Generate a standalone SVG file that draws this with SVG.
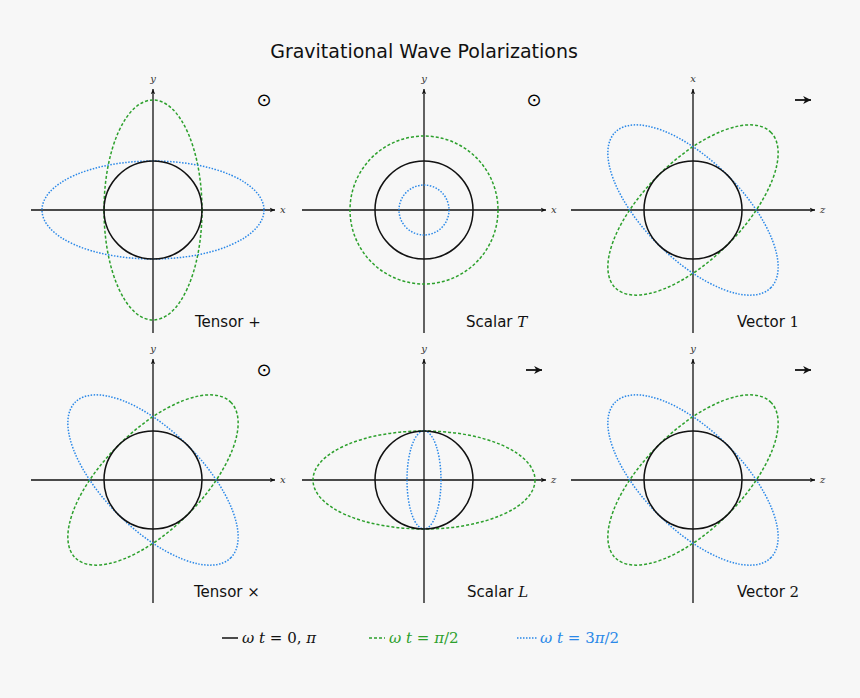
<svg xmlns="http://www.w3.org/2000/svg" width="860" height="698" viewBox="0 0 860 698">
<style>
.ax{stroke:#111;stroke-width:1.3;fill:none}
.k{stroke:#111;stroke-width:1.5;fill:none}
.g{stroke:#2ca02c;stroke-width:1.5;fill:none;stroke-dasharray:3 2}
.b{stroke:#2a88e8;stroke-width:1.5;fill:none;stroke-dasharray:1.5 1.5}
.al{font-family:"DejaVu Serif",serif;font-style:italic;font-size:10px;fill:#333}
.lb{font-family:"DejaVu Sans",sans-serif;font-size:15px;fill:#111}
.m{font-family:"DejaVu Serif",serif;font-style:italic;font-size:15px}
.n{font-family:"DejaVu Serif",serif;font-style:normal;font-size:15px}
.pa{stroke:#111;stroke-width:1.8}
</style>
<defs>
<marker id="ar" viewBox="0 0 8 8" refX="7" refY="4" markerWidth="6" markerHeight="6" orient="auto" markerUnits="userSpaceOnUse"><path d="M0,1 L7,4 L0,7 L2,4 Z" fill="#111"/></marker>
<marker id="ar2" viewBox="0 0 8 8" refX="7" refY="4" markerWidth="9" markerHeight="9" orient="auto" markerUnits="userSpaceOnUse"><path d="M0,0.5 L7,4 L0,7.5 L2,4 Z" fill="#111"/></marker>
<g id="axes"><path class="ax" d="M-122,0 H122" marker-end="url(#ar)"/><path class="ax" d="M0,123 V-121" marker-end="url(#ar)"/></g>
</defs>
<rect width="860" height="698" fill="#f7f7f7"/>
<text x="424" y="58" text-anchor="middle" font-family="DejaVu Sans,sans-serif" font-size="19" fill="#111">Gravitational Wave Polarizations</text>
<g id="tensor-plus" transform="translate(153,210)">
<use href="#axes"/><ellipse class="g" rx="49" ry="110"/><ellipse class="b" rx="111" ry="49"/><circle class="k" r="49"/>
<text class="al" x="0" y="-128" text-anchor="middle">y</text><text class="al" x="127" y="3">x</text>
<text x="111" y="-104" font-size="18" text-anchor="middle" font-family="DejaVu Sans,sans-serif">⊙</text>
<text class="lb" x="42" y="117">Tensor <tspan class="n">+</tspan></text>
</g>
<g id="scalar-T" transform="translate(424,210)">
<use href="#axes"/><circle class="g" r="74"/><circle class="b" r="25"/><circle class="k" r="49"/>
<text class="al" x="0" y="-128" text-anchor="middle">y</text><text class="al" x="127" y="3">x</text>
<text x="110" y="-104" font-size="18" text-anchor="middle" font-family="DejaVu Sans,sans-serif">⊙</text>
<text class="lb" x="42" y="117">Scalar <tspan class="m">T</tspan></text>
</g>
<g id="vector-1" transform="translate(693,210)">
<use href="#axes"/><ellipse class="g" rx="110" ry="49" transform="rotate(-45)"/><ellipse class="b" rx="110" ry="49" transform="rotate(45)"/><circle class="k" r="49"/>
<text class="al" x="0" y="-128" text-anchor="middle">x</text><text class="al" x="127" y="3">z</text>
<path class="pa" d="M102,-110 H118" marker-end="url(#ar2)"/>
<text class="lb" x="44" y="117">Vector <tspan class="n">1</tspan></text>
</g>
<g id="tensor-cross" transform="translate(153,480)">
<use href="#axes"/><ellipse class="g" rx="110" ry="49" transform="rotate(-45)"/><ellipse class="b" rx="110" ry="49" transform="rotate(45)"/><circle class="k" r="49"/>
<text class="al" x="0" y="-128" text-anchor="middle">y</text><text class="al" x="127" y="3">x</text>
<text x="111" y="-104" font-size="18" text-anchor="middle" font-family="DejaVu Sans,sans-serif">⊙</text>
<text class="lb" x="41" y="117">Tensor <tspan class="n">×</tspan></text>
</g>
<g id="scalar-L" transform="translate(424,480)">
<use href="#axes"/><ellipse class="g" rx="111" ry="49"/><ellipse class="b" rx="17" ry="49"/><circle class="k" r="49"/>
<text class="al" x="0" y="-128" text-anchor="middle">y</text><text class="al" x="127" y="3">z</text>
<path class="pa" d="M102,-110 H118" marker-end="url(#ar2)"/>
<text class="lb" x="43" y="117">Scalar <tspan class="m">L</tspan></text>
</g>
<g id="vector-2" transform="translate(693,480)">
<use href="#axes"/><ellipse class="g" rx="110" ry="49" transform="rotate(-45)"/><ellipse class="b" rx="110" ry="49" transform="rotate(45)"/><circle class="k" r="49"/>
<text class="al" x="0" y="-128" text-anchor="middle">y</text><text class="al" x="127" y="3">z</text>
<path class="pa" d="M102,-110 H118" marker-end="url(#ar2)"/>
<text class="lb" x="44" y="117">Vector <tspan class="n">2</tspan></text>
</g>
<g id="legend" font-family="DejaVu Serif,serif" font-size="15">
<path d="M222,638 H238" stroke="#111" stroke-width="1.5"/>
<text x="242" y="643" fill="#111"><tspan font-style="italic">ω t</tspan> = 0, <tspan font-style="italic">π</tspan></text>
<path d="M369,638 H385" class="g"/>
<text x="389" y="643" fill="#2ca02c"><tspan font-style="italic">ω t</tspan> = <tspan font-style="italic">π</tspan>/2</text>
<path d="M517,638 H537" class="b"/>
<text x="540" y="643" fill="#2a88e8"><tspan font-style="italic">ω t</tspan> = 3<tspan font-style="italic">π</tspan>/2</text>
</g>
</svg>
